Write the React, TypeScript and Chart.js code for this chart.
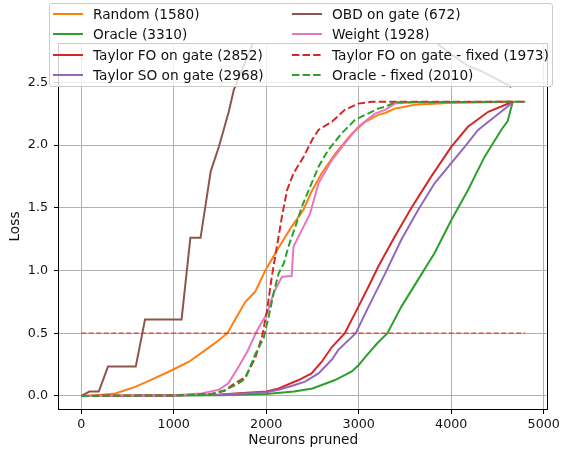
import { useEffect, useRef } from "react";
import { Chart, registerables } from "chart.js";

Chart.register(...registerables);

// tick values shown on the axes
const xTicks = [0, 1000, 2000, 3000, 4000, 5000];
const yTicks = [0, 0.5, 1, 1.5, 2, 2.5];

// [neurons pruned, loss]
const randomPts: [number, number][] = [
  [0, 0], [200, 0.008], [370, 0.02], [590, 0.074], [790, 0.14], [985, 0.207],
  [1165, 0.273], [1345, 0.367], [1480, 0.44], [1580, 0.5], [1700, 0.655],
  [1775, 0.75], [1880, 0.83], [1990, 1.0], [2115, 1.16], [2275, 1.35],
  [2400, 1.48], [2490, 1.63], [2600, 1.775], [2745, 1.93], [2925, 2.09],
  [3070, 2.185], [3210, 2.24], [3285, 2.255], [3390, 2.29], [3605, 2.32],
  [3965, 2.335], [4650, 2.345],
];
const oraclePts: [number, number][] = [
  [0, 0], [1000, 0.003], [1500, 0.006], [2000, 0.015], [2300, 0.035],
  [2500, 0.06], [2745, 0.127], [2925, 0.195], [3000, 0.247], [3070, 0.31],
  [3200, 0.42], [3310, 0.5], [3460, 0.71], [3640, 0.925], [3820, 1.14],
  [4000, 1.4], [4180, 1.64], [4360, 1.905], [4540, 2.12], [4610, 2.19],
  [4665, 2.345],
];
const taylorFoPts: [number, number][] = [
  [0, 0], [1000, 0.005], [1500, 0.012], [2000, 0.035], [2135, 0.06],
  [2350, 0.127], [2490, 0.18], [2600, 0.273], [2710, 0.39], [2850, 0.5],
  [2995, 0.71], [3105, 0.87], [3210, 1.03], [3390, 1.27], [3570, 1.5],
  [3785, 1.75], [4000, 1.985], [4180, 2.145], [4400, 2.265], [4665, 2.345],
];
const taylorSoPts: [number, number][] = [
  [0, 0], [1000, 0.004], [1500, 0.01], [2000, 0.03], [2135, 0.05],
  [2300, 0.085], [2420, 0.114], [2565, 0.18], [2710, 0.29], [2780, 0.367],
  [2968, 0.5], [3105, 0.71], [3285, 0.975], [3460, 1.245], [3640, 1.48],
  [3820, 1.695], [4000, 1.855], [4145, 1.985], [4290, 2.12], [4470, 2.225],
  [4650, 2.33], [4665, 2.345],
];
const obdPts: [number, number][] = [
  [0, 0], [90, 0.035], [190, 0.035], [290, 0.235], [590, 0.235], [690, 0.61],
  [1085, 0.61], [1180, 1.26], [1290, 1.26], [1400, 1.79], [1490, 1.99],
  [1595, 2.265], [1650, 2.44], [1850, 2.8], [1950, 3.1], [2500, 3.6],
  [3500, 3.3], [3860, 2.8], [4180, 2.63], [4320, 2.59], [4610, 2.48],
  [4650, 2.46],
];
const weightPts: [number, number][] = [
  [0, 0], [1000, 0.005], [1300, 0.02], [1490, 0.05], [1590, 0.1],
  [1700, 0.23], [1800, 0.36], [1900, 0.52], [2010, 0.66], [2080, 0.82],
  [2170, 0.95], [2275, 0.956], [2295, 1.19], [2370, 1.3], [2475, 1.455],
  [2565, 1.695], [2710, 1.88], [2850, 2.013], [2995, 2.146], [3175, 2.25],
  [3285, 2.28], [3390, 2.33], [3600, 2.34], [4650, 2.345],
];
const taylorFoFixedPts: [number, number][] = [
  [0, 0], [1000, 0.004], [1400, 0.015], [1550, 0.04], [1640, 0.09],
  [1775, 0.15], [1880, 0.3], [1955, 0.473], [2010, 0.685], [2060, 0.95],
  [2115, 1.19], [2170, 1.43], [2225, 1.64], [2295, 1.775], [2405, 1.907],
  [2495, 2.04], [2565, 2.12], [2710, 2.186], [2850, 2.28], [2995, 2.33],
  [3140, 2.345], [4800, 2.345],
];
const oracleFixedPts: [number, number][] = [
  [0, 0], [1000, 0.004], [1400, 0.012], [1560, 0.048], [1700, 0.1],
  [1775, 0.14], [1880, 0.33], [1972, 0.46], [2026, 0.63], [2080, 0.818],
  [2135, 0.978], [2190, 1.057], [2240, 1.19], [2315, 1.35], [2385, 1.508],
  [2475, 1.668], [2565, 1.827], [2670, 1.96], [2815, 2.093], [2960, 2.2],
  [3070, 2.24], [3210, 2.29], [3285, 2.305], [3390, 2.34], [4800, 2.345],
];
const thresholdPts: [number, number][] = [
  [0, 0.5], [4800, 0.5],
];

const DASH = [7.4, 3.2];

const series = [
  { label: "Random (1580)", pts: randomPts, color: "#ff7f0e", dashed: false },
  { label: "Oracle (3310)", pts: oraclePts, color: "#2ca02c", dashed: false },
  { label: "Taylor FO on gate (2852)", pts: taylorFoPts, color: "#d62728", dashed: false },
  { label: "Taylor SO on gate (2968)", pts: taylorSoPts, color: "#9467bd", dashed: false },
  { label: "OBD on gate (672)", pts: obdPts, color: "#8c564b", dashed: false },
  { label: "Weight (1928)", pts: weightPts, color: "#e377c2", dashed: false },
  { label: "Taylor FO on gate - fixed (1973)", pts: taylorFoFixedPts, color: "#d62728", dashed: true },
  { label: "Oracle - fixed (2010)", pts: oracleFixedPts, color: "#2ca02c", dashed: true },
];

// black box round the plot area, drawn over the lines like matplotlib spines
const framePlugin = {
  id: "frame",
  afterDatasetsDraw(chart: any) {
    const { ctx, chartArea: a } = chart;
    ctx.save();
    ctx.strokeStyle = "#000";
    ctx.lineWidth = 1;
    ctx.strokeRect(Math.round(a.left) - 0.5, Math.round(a.top) - 0.5, Math.round(a.right - a.left) + 1, Math.round(a.bottom - a.top) + 1);
    ctx.restore();
  },
};

export default function App() {
  const canvasNode = useRef<HTMLCanvasElement | null>(null);

  useEffect(() => {
    if (!canvasNode.current) return;
    const datasets: any[] = series.map((s, i) => ({
      label: s.label,
      data: s.pts.map(([x, y]) => ({ x, y })),
      borderColor: s.color,
      backgroundColor: s.color,
      borderWidth: 2,
      borderDash: s.dashed ? DASH : [],
      pointRadius: 0,
      tension: 0,
      fill: false,
      order: -i,
    }));
    datasets.push({
      label: "threshold",
      data: thresholdPts.map(([x, y]) => ({ x, y })),
      borderColor: "rgba(220,40,40,0.85)",
      borderWidth: 1.2,
      borderDash: [5, 2.5],
      pointRadius: 0,
      fill: false,
      order: -20,
    });

    const tickFont = { family: "DejaVu Sans", size: 12.7 };
    const titleFont = { family: "DejaVu Sans", size: 13.7 };

    const chart = new Chart(canvasNode.current, {
      type: "line",
      data: { datasets },
      plugins: [framePlugin],
      options: {
        responsive: false,
        animation: false,
        layout: { autoPadding: false, padding: { top: 44, right: 14, left: 0, bottom: 0 } },
        plugins: { legend: { display: false }, tooltip: { enabled: false } },
        scales: {
          x: {
            type: "linear",
            min: -240,
            max: 5040,
            bounds: "data",
            afterFit: (scale: any) => {
              scale.height = 42;
            },
            afterBuildTicks: (scale: any) => {
              scale.ticks = xTicks.map((value) => ({ value }));
            },
            border: { display: false },
            grid: { color: "#b0b0b0", lineWidth: 1, tickColor: "#000", tickLength: 5, tickWidth: 1 },
            ticks: {
              autoSkip: false,
              maxRotation: 0,
              padding: 3,
              color: "#111",
              font: tickFont,
              callback: (v: any) => String(v),
            },
            title: { display: true, text: "Neurons pruned", color: "#111", font: titleFont, padding: { top: 0, bottom: 2 } },
          },
          y: {
            type: "linear",
            min: -0.104,
            max: 2.805,
            bounds: "data",
            afterFit: (scale: any) => {
              scale.width = 59;
            },
            afterBuildTicks: (scale: any) => {
              scale.ticks = yTicks.map((value) => ({ value }));
            },
            border: { display: false },
            grid: { color: "#b0b0b0", lineWidth: 1, tickColor: "#000", tickLength: 5, tickWidth: 1 },
            ticks: {
              autoSkip: false,
              padding: 6,
              color: "#111",
              font: tickFont,
              callback: (v: any) => Number(v).toFixed(1),
            },
            title: { display: true, text: "Loss", color: "#111", font: titleFont, padding: { top: 7, bottom: 0 } },
          },
        },
      },
    } as any);

    return () => {
      chart.destroy();
    };
  }, []);

  const rowCenters = [10, 30, 51, 71];

  return (
    <div
      style={{
        position: "absolute",
        left: 0,
        top: 0,
        width: 563,
        height: 451,
        background: "#fff",
        fontFamily: "'DejaVu Sans', sans-serif",
      }}
    >
      <canvas ref={canvasNode} width={563} height={451} style={{ display: "block" }} />
      <div
        style={{
          position: "absolute",
          left: 49,
          top: 3,
          width: 504,
          height: 84,
          boxSizing: "border-box",
          border: "1px solid #cccccc",
          borderRadius: 3,
          background: "rgba(255,255,255,0.8)",
        }}
      >
        {series.map((s, i) => (
          <div
            key={s.label}
            style={{
              position: "absolute",
              left: i < 4 ? 3 : 242,
              top: rowCenters[i % 4] - 10,
              height: 20,
              display: "flex",
              alignItems: "center",
              whiteSpace: "nowrap",
            }}
          >
            <svg width={30} height={4} style={{ display: "block" }}>
              <line
                x1={0}
                y1={2}
                x2={30}
                y2={2}
                stroke={s.color}
                strokeWidth={2}
                strokeDasharray={s.dashed ? DASH.join(" ") : undefined}
              />
            </svg>
            <span style={{ marginLeft: 10, fontSize: 13.7, lineHeight: "20px", color: "#111" }}>{s.label}</span>
          </div>
        ))}
      </div>
    </div>
  );
}
